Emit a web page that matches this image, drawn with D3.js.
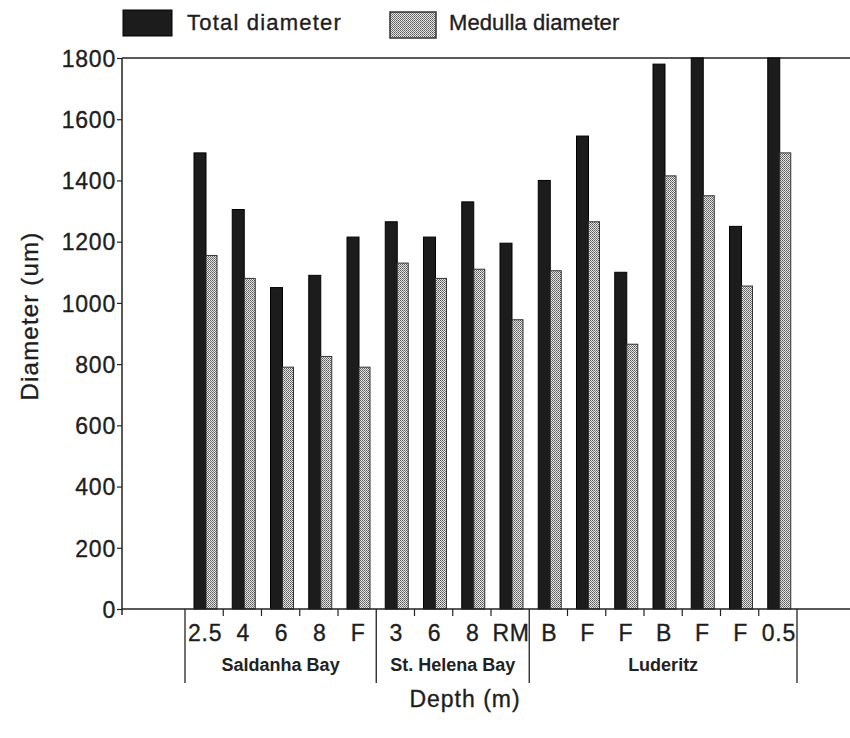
<!DOCTYPE html>
<html>
<head>
<meta charset="utf-8">
<script src="https://cdn.jsdelivr.net/npm/d3@7"></script>
<style>
  html, body { margin: 0; padding: 0; background: #fff; }
  svg { display: block; font-family: "Liberation Sans", Arial, Helvetica, sans-serif; }
  .lbl { fill: #1e1e1e; stroke: #1e1e1e; stroke-width: 0.35px; }
</style>
</head>
<body>
<svg id="chart" width="850" height="738"></svg>
<script>
// Depth / site labels along the x axis
const categories = ["2.5", "4", "6", "8", "F", "3", "6", "8", "RM", "B", "F", "F", "B", "F", "F", "0.5"];
// Sampling sites and how many depth categories each one covers
const groupNames = ["Saldanha Bay", "St. Helena Bay", "Luderitz"];
const groupSizes = [5, 4, 7];
// Diameters in um
const totalDiameter   = [1490, 1305, 1050, 1090, 1215, 1265, 1215, 1330, 1195, 1400, 1545, 1100, 1780, 1800, 1250, 1800];
const medullaDiameter = [1155, 1080,  790,  825,  790, 1130, 1080, 1110,  945, 1105, 1265,  865, 1415, 1350, 1055, 1490];
const yTicks = [0, 200, 400, 600, 800, 1000, 1200, 1400, 1600, 1800];
const seriesNames = ["Total diameter", "Medulla diameter"];

const svg = d3.select("#chart");

// Plot frame
const plotLeft = 122, plotRight = 850, plotTop = 58, plotBottom = 609;

const y = d3.scaleLinear().domain([0, 1800]).range([plotBottom, plotTop]);
const x = d3.scaleBand().domain(d3.range(categories.length)).range([185, 797]).paddingInner(0).paddingOuter(0);
const bw = x.bandwidth();

// Stippled fill for the medulla bars
const defs = svg.append("defs");
const pat = defs.append("pattern")
  .attr("id", "stipple").attr("patternUnits", "userSpaceOnUse")
  .attr("width", 2).attr("height", 2);
pat.append("rect").attr("width", 2).attr("height", 2).attr("fill", "#e6e6e6");
pat.append("rect").attr("x", 0).attr("y", 0).attr("width", 1).attr("height", 1).attr("fill", "#585858");
pat.append("rect").attr("x", 1).attr("y", 1).attr("width", 1).attr("height", 1).attr("fill", "#7a7a7a");

// Top frame line
svg.append("line").attr("x1", plotLeft).attr("x2", plotRight).attr("y1", plotTop).attr("y2", plotTop)
  .attr("stroke", "#222").attr("stroke-width", 1.3);

// Bars
const barW1 = 12, barW2 = 11, off1 = 9;
svg.append("g").selectAll("rect").data(totalDiameter).join("rect")
  .attr("x", (d, i) => x(i) + off1)
  .attr("y", d => y(d))
  .attr("width", barW1)
  .attr("height", d => y(0) - y(d))
  .attr("fill", "#1c1c1c").attr("stroke", "#000").attr("stroke-width", 1);

svg.append("g").selectAll("rect").data(medullaDiameter).join("rect")
  .attr("x", (d, i) => x(i) + off1 + barW1)
  .attr("y", d => y(d))
  .attr("width", barW2)
  .attr("height", d => y(0) - y(d))
  .attr("fill", "url(#stipple)").attr("stroke", "#333").attr("stroke-width", 1);

// Y axis
const yAxis = d3.axisLeft(y).tickValues(yTicks).tickFormat(d3.format("d")).tickSize(5).tickPadding(1);
const gy = svg.append("g").attr("transform", `translate(${plotLeft},0)`).call(yAxis);
gy.select(".domain").remove();
gy.selectAll(".tick line").attr("stroke", "#222").attr("stroke-width", 1.2);
gy.selectAll(".tick text").attr("class", "lbl").attr("font-size", 23)
  .attr("letter-spacing", 0.8).attr("dy", "0.36em").attr("font-family", "Liberation Sans, Arial, sans-serif");
svg.append("line").attr("x1", plotLeft).attr("x2", plotLeft).attr("y1", plotTop).attr("y2", plotBottom + 6)
  .attr("stroke", "#222").attr("stroke-width", 1.5);

// X axis baseline
svg.append("line").attr("x1", plotLeft).attr("x2", plotRight).attr("y1", plotBottom).attr("y2", plotBottom)
  .attr("stroke", "#222").attr("stroke-width", 1.5);

// Group boundaries and inner category ticks
const groupStarts = [0];
groupSizes.forEach((n, i) => groupStarts.push(groupStarts[i] + n));
const boundaryX = i => (i < categories.length ? x(i) : x(categories.length - 1) + bw);
d3.range(1, categories.length).filter(i => !groupStarts.includes(i)).forEach(i => {
  svg.append("line").attr("x1", boundaryX(i)).attr("x2", boundaryX(i))
    .attr("y1", plotBottom).attr("y2", plotBottom + 7).attr("stroke", "#222").attr("stroke-width", 1.2);
});
groupStarts.forEach(i => {
  svg.append("line").attr("x1", boundaryX(i)).attr("x2", boundaryX(i))
    .attr("y1", plotBottom).attr("y2", 683).attr("stroke", "#222").attr("stroke-width", 1.3);
});

// Category labels
svg.append("g").selectAll("text").data(categories).join("text")
  .attr("class", "lbl")
  .attr("x", (d, i) => x(i) + bw / 2 + 1)
  .attr("y", 641)
  .attr("text-anchor", "middle")
  .attr("font-size", 23).attr("letter-spacing", 0.8)
  .text(d => d);

// Group labels
svg.append("g").selectAll("text").data(groupNames).join("text")
  .attr("x", (d, i) => (boundaryX(groupStarts[i]) + boundaryX(groupStarts[i + 1])) / 2)
  .attr("y", 671)
  .attr("text-anchor", "middle")
  .attr("font-family", "'Liberation Sans Narrow', 'Liberation Sans', Arial, sans-serif")
  .attr("font-size", 18).attr("font-weight", "bold").attr("fill", "#222")
  .text(d => d);

// Axis titles
svg.append("text").attr("class", "lbl").attr("x", 465).attr("y", 707).attr("text-anchor", "middle")
  .attr("font-size", 23).attr("letter-spacing", 1).text("Depth (m)");
svg.append("text").attr("class", "lbl").attr("transform", "translate(38,316) rotate(-90)").attr("text-anchor", "middle")
  .attr("font-size", 24).attr("letter-spacing", 1.2).text("Diameter (um)");

// Legend
const legend = svg.append("g");
legend.append("rect").attr("x", 123).attr("y", 10).attr("width", 49).attr("height", 26)
  .attr("fill", "#1c1c1c").attr("stroke", "#000");
legend.append("text").attr("class", "lbl").attr("x", 187).attr("y", 30).attr("font-size", 22).attr("letter-spacing", 1.2)
  .text(seriesNames[0]);
legend.append("rect").attr("x", 390).attr("y", 12).attr("width", 46).attr("height", 26)
  .attr("fill", "url(#stipple)").attr("stroke", "#333").attr("stroke-width", 1.5);
legend.append("text").attr("class", "lbl").attr("x", 449).attr("y", 30).attr("font-size", 22).attr("letter-spacing", 0.1)
  .text(seriesNames[1]);
</script>
</body>
</html>
